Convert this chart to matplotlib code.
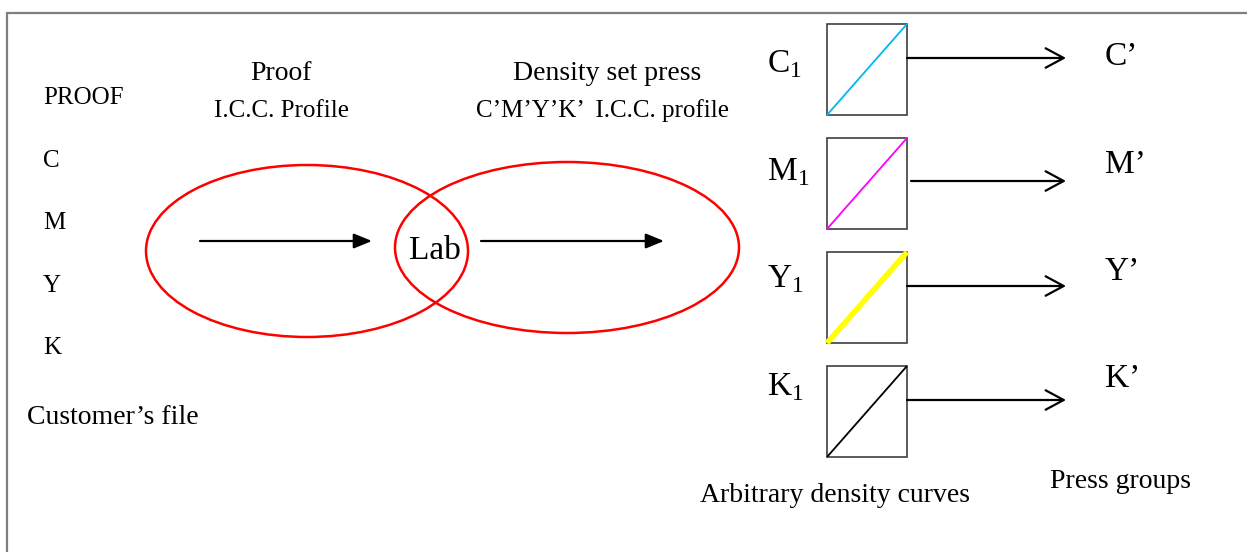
import matplotlib.pyplot as plt
from matplotlib.patches import Ellipse, Rectangle

plt.rcParams['font.family'] = ['Liberation Serif', 'DejaVu Serif']
plt.rcParams['mathtext.fontset'] = 'custom'
plt.rcParams['mathtext.rm'] = 'Liberation Serif'

# labels of the diagram
proof_inputs = ['PROOF', 'C', 'M', 'Y', 'K']
channels = ['C', 'M', 'Y', 'K']
curve_colors = ['#00b8f0', '#ff00ff', '#ffff00', '#000000']
curve_widths = [1.3, 1.3, 4.0, 1.3]
press_outputs = ["C\u2019", "M\u2019", "Y\u2019", "K\u2019"]

W, H = 1247, 552
fig = plt.figure(figsize=(W / 100, H / 100), dpi=100)
ax = fig.add_axes([0, 0, 1, 1])
ax.set_xlim(0, W)
ax.set_ylim(H, 0)
ax.axis('off')

# frame (only top and left visible)
ax.plot([7, 7, W], [H, 13, 13], color='#7f7f7f', lw=1.6, solid_joinstyle='miter')

# left column
ys = [104, 167, 229, 292, 354]
for lab, y in zip(proof_inputs, ys):
    ax.text(43, y, lab, fontsize=18, va='baseline', ha='left')
ax.text(27, 424, "Customer\u2019s file", fontsize=20, va='baseline', ha='left')

# profile captions
ax.text(281, 80, 'Proof', fontsize=20, ha='center', va='baseline')
ax.text(281, 117, 'I.C.C. Profile', fontsize=18, ha='center', va='baseline')
ax.text(607, 80, 'Density set press', fontsize=20, ha='center', va='baseline')
ax.text(602, 117, "C\u2019M\u2019Y\u2019K\u2019  I.C.C. profile", fontsize=18,
        ha='center', va='baseline')

# two ellipses
ax.add_patch(Ellipse((307, 251), 322, 172, fill=False, ec='#ff0000', lw=1.8))
ax.add_patch(Ellipse((567, 247.5), 344, 171, fill=False, ec='#ff0000', lw=1.8))
ax.text(435, 259, 'Lab', fontsize=24, ha='center', va='baseline')

solid = dict(arrowstyle='-|>,head_length=1.1,head_width=0.45', color='black',
             lw=1.6, shrinkA=0, shrinkB=0)
ax.annotate('', xy=(372, 241), xytext=(200, 241), arrowprops=solid)
ax.annotate('', xy=(664, 241), xytext=(481, 241), arrowprops=solid)

# density curve boxes
tops = [24, 138, 252, 366]
letter_base = [72, 180, 287, 395]
out_base = [65, 173, 280, 387]
arrow_y = [58, 181, 286, 400]
arrow_x0 = [907, 911, 907, 907]
openh = dict(arrowstyle='->,head_length=1.3,head_width=0.7', color='black',
             lw=1.6, shrinkA=0, shrinkB=0)
for i, ch in enumerate(channels):
    t = tops[i]
    ax.add_patch(Rectangle((827, t), 80, 91, fill=False, ec='#404040', lw=1.2))
    ax.plot([827, 907], [t + 91, t], color=curve_colors[i], lw=curve_widths[i],
            solid_capstyle='butt')
    ax.text(767, letter_base[i], ch + r'$_{\mathregular{1}}$', fontsize=24,
            ha='left', va='baseline')
    ax.annotate('', xy=(1066, arrow_y[i]), xytext=(arrow_x0[i], arrow_y[i]),
                arrowprops=openh)
    ax.text(1105, out_base[i], press_outputs[i], fontsize=24, ha='left',
            va='baseline')

ax.text(835, 502, 'Arbitrary density curves', fontsize=20, ha='center', va='baseline')
ax.text(1120, 488, 'Press groups', fontsize=20, ha='center', va='baseline')

fig.savefig('out.png', dpi=100)
